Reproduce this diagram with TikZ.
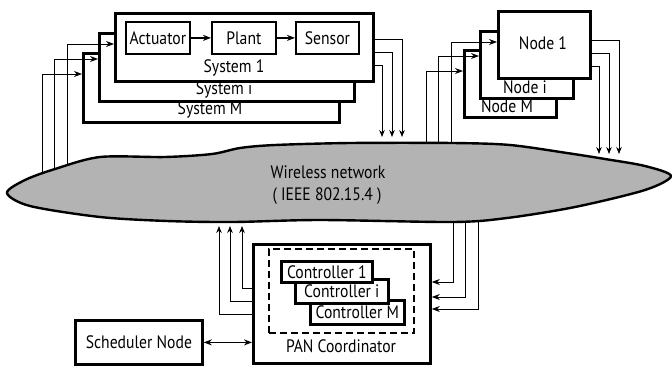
\documentclass[tikz,border=0pt]{standalone}
\usepackage{fontspec}
\setmainfont{PT Sans}[FakeStretch=0.87]
\usetikzlibrary{arrows.meta}
\begin{document}
\begin{tikzpicture}[x=1pt,y=-1pt,
  box/.style={draw, line width=2.8pt, fill=white, anchor=north west, inner sep=0pt},
  ibox/.style={draw, line width=1.8pt, fill=white, anchor=north west, inner sep=0pt},
  lbl/.style={font=\fontsize{18}{20}\selectfont, inner sep=0pt},
  conn/.style={line width=0.9pt, -{Stealth[length=8pt,width=6pt]}},
  dconn/.style={line width=0.9pt, -{Stealth[length=7pt,width=5.5pt]}},
  cloudstyle/.style={draw, line width=2.4pt, fill={rgb,255:red,179;green,179;blue,179}}
]
\useasboundingbox (0,0) rectangle (672,365);

% ---------- systems ----------
\node[box, minimum width=256pt, minimum height=69pt] (sM) at (82,52) {};
\node[lbl] (sMl) at (210,110) {System M};
\node[box, minimum width=255pt, minimum height=68pt] (si) at (98,32) {};
\node[lbl] (sil) at (224,89.5) {System i};
\node[box, minimum width=258pt, minimum height=68pt] (s1) at (114,12) {};
\node[lbl] (s1l) at (234,68) {System 1};
\node[ibox, minimum width=64pt, minimum height=32pt] (act) at (125,21) {};
\node[lbl] at (act.center) {Actuator};
\node[ibox, minimum width=64pt, minimum height=32pt] (plant) at (211,21) {};
\node[lbl] at (plant.center) {Plant};
\node[ibox, minimum width=63pt, minimum height=32pt] (sens) at (295,21) {};
\node[lbl] at (sens.center) {Sensor};
\draw[line width=1.4pt, -{Stealth[length=8pt,width=6pt]}] (act) -- (plant);
\draw[line width=1.4pt, -{Stealth[length=8pt,width=6pt]}] (plant) -- (sens);

% ---------- nodes ----------
\node[box, minimum width=92pt, minimum height=67pt] (nM) at (463,49) {};
\node[lbl] (nMl) at (507,106) {Node M};
\node[box, minimum width=93pt, minimum height=67pt] (ni) at (479,30) {};
\node[lbl] (nil) at (525,87) {Node i};
\node[box, minimum width=92pt, minimum height=67pt] (n1) at (497,10) {};
\node[lbl] (n1l) at (543,43) {Node 1};

% ---------- PAN coordinator ----------
\node[box, minimum width=177pt, minimum height=119pt] (pan) at (252,243) {};
\node[lbl] (panl) at (341,346) {PAN Coordinator};
\node[draw, line width=1.6pt, dash pattern=on 7pt off 4pt, anchor=north west, inner sep=0pt,
      minimum width=145pt, minimum height=84pt] (dash) at (268,248) {};
\node[box, line width=2.6pt, minimum width=94pt, minimum height=24pt] (cM) at (309,299) {};
\node[lbl] at (cM.center) {Controller M};
\node[box, line width=2.6pt, minimum width=93pt, minimum height=24pt] (ci) at (294,278) {};
\node[lbl] at (ci.center) {Controller i};
\node[box, line width=2.6pt, minimum width=91pt, minimum height=21pt] (c1) at (280,260) {};
\node[lbl] at (c1.center) {Controller 1};

% ---------- scheduler ----------
\node[box, minimum width=127pt, minimum height=44pt] (sched) at (74,319) {};
\node[lbl] at (sched.center) {Scheduler Node};
\draw[line width=1.4pt, {Stealth[length=8pt,width=6pt]}-{Stealth[length=8pt,width=6pt]}]
  (sched.east) -- (pan.west |- sched.east);

% ---------- coordinates on the cloud ----------
\coordinate (wa) at (67,185);
\coordinate (wb) at (54,185);
\coordinate (wc) at (42,185);
\coordinate (na) at (451,155);
\coordinate (nb) at (438,155);
\coordinate (nc) at (426,155);
\coordinate (pa) at (453,210);
\coordinate (pb) at (465,210);
\coordinate (pc) at (478,210);
\coordinate (so1) at (402,137);
\coordinate (so2) at (392,137);
\coordinate (so3) at (382,137);
\coordinate (no1) at (619,154);
\coordinate (no2) at (609,154);
\coordinate (no3) at (599,154);
\coordinate (pu1) at (242,226);
\coordinate (pu2) at (230,226);
\coordinate (pu3) at (219,226);

% lines from the cloud (drawn below the cloud)
\draw[conn] (wa) |- ([yshift=-32pt]s1.north west);
\draw[conn] (wb) |- ([yshift=-27pt]si.north west);
\draw[conn] (wc) |- ([yshift=-22pt]sM.north west);
\draw[conn] (na) |- ([yshift=-32pt]n1.north west);
\draw[conn] (nb) |- ([yshift=-26pt]ni.north west);
\draw[conn] (nc) |- ([yshift=-22pt]nM.north west);
\draw[conn] (pa) |- ([yshift=-39pt]pan.north east);
\draw[conn] (pb) |- ([yshift=-54pt]pan.north east);
\draw[conn] (pc) |- ([yshift=-66pt]pan.north east);

% ---------- cloud ----------
\draw[cloudstyle] plot[smooth cycle, tension=0.5] coordinates {
  (7,193) (25,180) (55,169) (100,157) (165,157) (212,154) (240,148) (275,145)
  (350,143) (453,143) (510,145) (567,153) (605,159) (645,166) (671,176)
  (645,190) (575,207) (507,218) (453,222) (320,220) (233,222) (167,221)
  (100,217) (30,206)};
\node[lbl] (wl1) at (328,172) {Wireless network};
\node[lbl] (wl2) at (327,196) {( IEEE 802.15.4 )};

% lines into the cloud
\draw[dconn] ([yshift=-27pt]s1.north east) -| (so1);
\draw[dconn] ([yshift=-40pt]s1.north east) -| (so2);
\draw[dconn] ([yshift=-53pt]s1.north east) -| (so3);
\draw[dconn] ([yshift=-30pt]n1.north east) -| (no1);
\draw[dconn] ([yshift=-43pt]n1.north east) -| (no2);
\draw[dconn] ([yshift=-56pt]n1.north east) -| (no3);
\draw[dconn] ([yshift=-45pt]pan.north west) -| (pu1);
\draw[dconn] ([yshift=-58pt]pan.north west) -| (pu2);
\draw[dconn] ([yshift=-71pt]pan.north west) -| (pu3);
\end{tikzpicture}
\end{document}
